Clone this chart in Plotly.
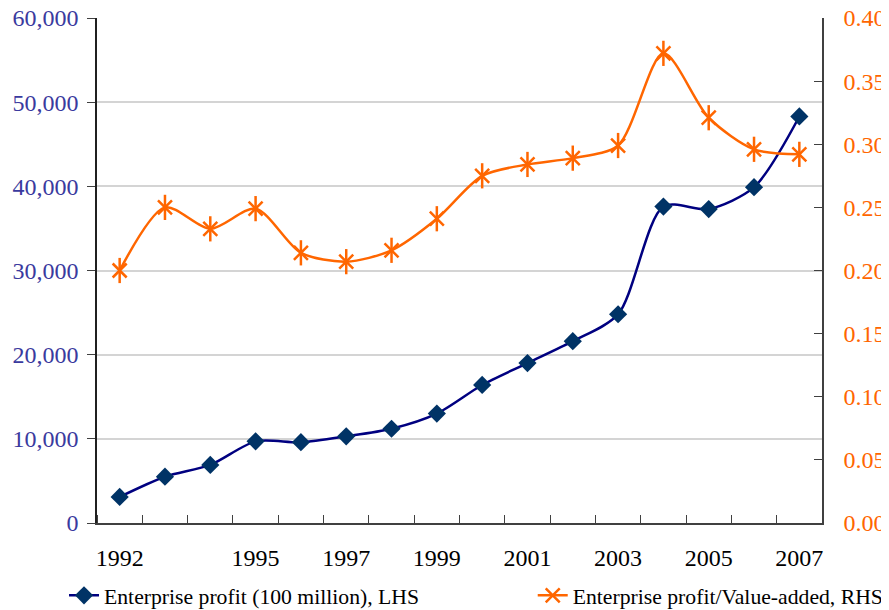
import plotly.graph_objects as go

years = list(range(1992, 2008))
profit = [3100, 5500, 6900, 9700, 9600, 10300, 11200, 13000, 16400, 19000, 21600, 24800, 37600, 37300, 39900, 48300]
ratio = [0.200, 0.250, 0.233, 0.249, 0.214, 0.207, 0.216, 0.241, 0.275, 0.284, 0.289, 0.299, 0.372, 0.321, 0.296, 0.292]
label_years = [1992, 1995, 1997, 1999, 2001, 2003, 2005, 2007]
left_ticks = [0, 10000, 20000, 30000, 40000, 50000, 60000]
right_ticks = [0.0, 0.05, 0.10, 0.15, 0.20, 0.25, 0.30, 0.35, 0.40]

serif = "Liberation Serif, Times New Roman, serif"
navy = "#000080"
orange = "#FF6600"

fig = go.Figure()
fig.add_trace(go.Scatter(
    x=years, y=profit, name="Enterprise profit (100 million), LHS",
    mode="lines+markers", line=dict(color=navy, width=2.5, shape="spline", smoothing=0.8),
    marker=dict(symbol="diamond", size=14, color="#003366"),
    legend="legend"))
fig.add_trace(go.Scatter(
    x=years, y=ratio, name="Enterprise profit/Value-added, RHS", yaxis="y2",
    mode="lines+markers", line=dict(color=orange, width=2.5, shape="spline", smoothing=0.8),
    marker=dict(symbol="x-thin-open", size=14, color=orange, line=dict(color=orange, width=2.5)),
    legend="legend2"))
# vertical stroke of the 6-armed asterisk markers
fig.add_trace(go.Scatter(
    x=years, y=ratio, yaxis="y2", mode="markers", showlegend=False, hoverinfo="skip",
    marker=dict(symbol="line-ns-open", size=18, color=orange, line=dict(color=orange, width=2.5))))

# the page body has an 8px margin, so the figure is offset to compensate
fig.update_layout(
    width=889, height=610,
    margin=dict(l=89, r=75, t=10, b=95, autoexpand=False),
    paper_bgcolor="white", plot_bgcolor="white",
    font=dict(family=serif, size=24, color="black"),
    showlegend=True,
    xaxis=dict(range=[1991.5, 2007.5], tickvals=label_years, ticktext=[str(y) for y in label_years],
               ticks="", showline=True, linecolor="#404040", linewidth=1.5, showgrid=False, zeroline=False,
               automargin=False, ticklabelstandoff=12, ticklabeloverflow="allow",
               tickfont=dict(family=serif, size=24, color="black"),
               minor=dict(ticks="inside", tick0=1991.5, dtick=1, ticklen=8, tickcolor="#404040", showgrid=False)),
    yaxis=dict(range=[0, 60000], tickvals=left_ticks, tickformat=",", showline=True, linecolor="#202020",
               linewidth=1.5, ticks="outside", ticklen=8, tickcolor="#404040", automargin=False,
               showgrid=True, gridcolor="#D4D4D4", gridwidth=1.5, zeroline=False, ticklabelstandoff=4,
               ticklabeloverflow="allow", tickfont=dict(family=serif, size=24, color="#3A3A9E")),
    yaxis2=dict(range=[0, 0.40], tickvals=right_ticks, tickformat=".2f", overlaying="y", side="right",
                showline=True, linecolor="#404040", linewidth=1.5, ticks="inside", ticklen=8, tickcolor="#404040",
                showgrid=False, zeroline=False, ticklabelstandoff=15, automargin=False,
                ticklabeloverflow="allow", tickfont=dict(family=serif, size=24, color=orange)),
    legend=dict(x=-0.0455, y=-0.144, xanchor="left", yanchor="middle", orientation="h",
                font=dict(family=serif, size=21.7, color="black"), bgcolor="rgba(0,0,0,0)"),
    legend2=dict(x=0.601, y=-0.144, xanchor="left", yanchor="middle", orientation="h",
                 font=dict(family=serif, size=21.7, color="black"), bgcolor="rgba(0,0,0,0)"),
)

fig.write_html("out.html")
